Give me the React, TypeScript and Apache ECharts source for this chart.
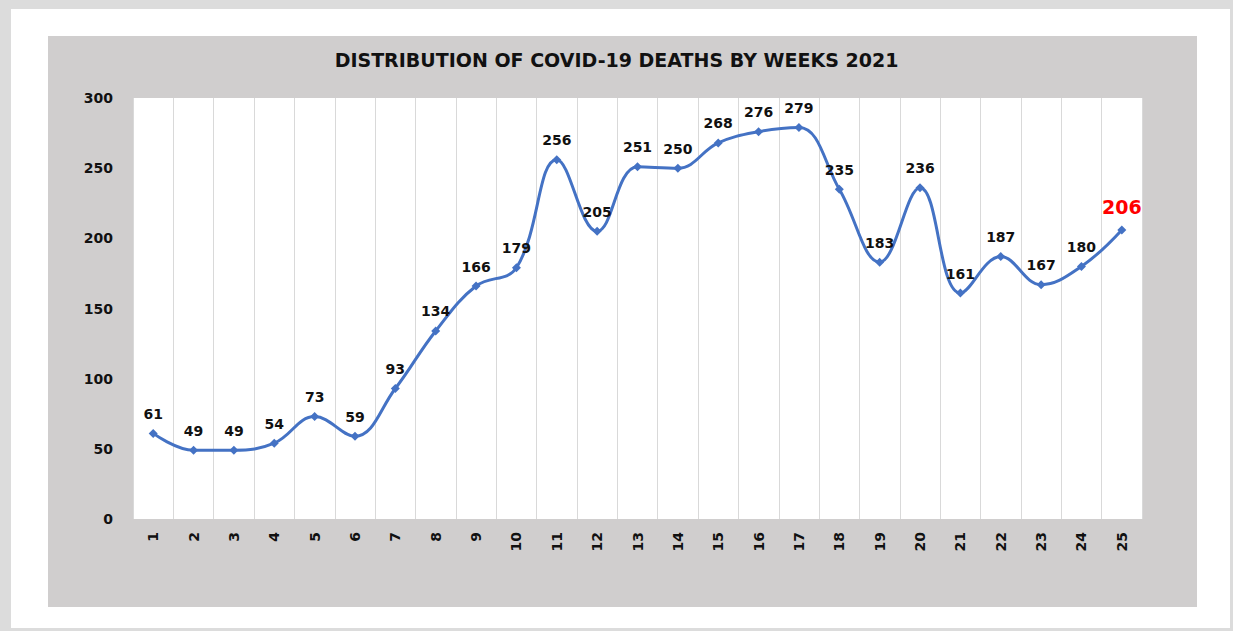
import React, { useEffect, useRef } from "react";
import * as echarts from "echarts";

const weeks = ["1","2","3","4","5","6","7","8","9","10","11","12","13","14","15","16","17","18","19","20","21","22","23","24","25"];
const deaths = [61,49,49,54,73,59,93,134,166,179,256,205,251,250,268,276,279,235,183,236,161,187,167,180,206];
const titleText = "DISTRIBUTION OF COVID-19 DEATHS BY WEEKS 2021";

export default function App() {
  const ref = useRef<HTMLDivElement>(null);
  useEffect(() => {
    if (!ref.current) return;
    const chart = echarts.init(ref.current, null, { renderer: "svg" });
    const font = "DejaVu Sans";
    const lastIdx = deaths.length - 1;
    chart.setOption({
      animation: false,
      backgroundColor: "#dcdcdc",
      graphic: [
        { type: "rect", z: -10, shape: { x: 11, y: 9, width: 1219, height: 619 }, style: { fill: "#ffffff" } },
        { type: "rect", z: -9, shape: { x: 48, y: 36, width: 1149, height: 571 }, style: { fill: "#d0cece" } },
      ],
      title: {
        text: titleText,
        left: "center",
        top: 45,
        textStyle: { fontFamily: font, fontWeight: "bold", fontSize: 19, color: "#111111" },
      },
      grid: { left: 133, right: 91, top: 98, bottom: 112, show: true, backgroundColor: "#ffffff", borderWidth: 0 },
      xAxis: {
        type: "category",
        data: weeks,
        boundaryGap: true,
        axisLine: { show: false },
        axisTick: { show: false },
        splitLine: { show: true, interval: 0, lineStyle: { color: "#d9d9d9", width: 1 } },
        axisLabel: { rotate: 90, interval: 0, margin: 13, fontFamily: font, fontWeight: "bold", fontSize: 14, color: "#111111" },
      },
      yAxis: {
        type: "value",
        min: 0,
        max: 300,
        interval: 50,
        axisLine: { show: false },
        axisTick: { show: false },
        splitLine: { show: false },
        axisLabel: { margin: 20, fontFamily: font, fontWeight: "bold", fontSize: 14, color: "#111111" },
      },
      series: [
        {
          type: "line",
          data: deaths.map((v, i) =>
            i === lastIdx
              ? { value: v, label: { color: "#ff0000", fontSize: 19, distance: 9 } }
              : v
          ),
          smooth: 0.4,
          symbol: "diamond",
          symbolSize: 9,
          lineStyle: { color: "#4472c4", width: 3 },
          itemStyle: { color: "#4472c4" },
          label: { show: true, position: "top", distance: 8, fontFamily: font, fontWeight: "bold", fontSize: 14, color: "#111111" },
        },
      ],
    });
    return () => chart.dispose();
  }, []);
  return <div ref={ref} style={{ position: "fixed", left: 0, top: 0, width: 1233, height: 631 }} />;
}
